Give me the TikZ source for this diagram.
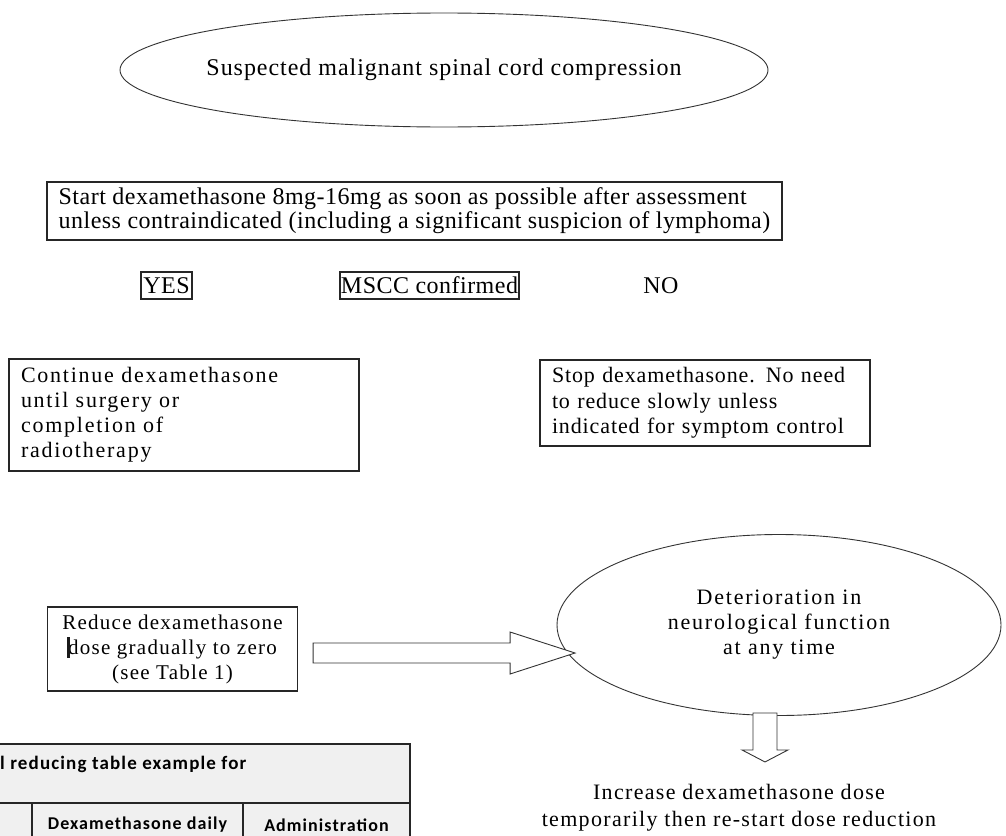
\documentclass[tikz,border=0pt]{standalone}
\usepackage{fontspec}
\setmainfont{Liberation Serif}
\newfontfamily\tightserif[LetterSpace=2]{Liberation Serif}
\newfontfamily\midserif[LetterSpace=4]{Liberation Serif}
\newfontfamily\looseserif[LetterSpace=6]{Liberation Serif}
\newfontfamily\wideserif[LetterSpace=8]{Liberation Serif}
\newfontfamily\tabfont[LetterSpace=6]{Carlito}
\usetikzlibrary{shapes,arrows,positioning,calc}

\begin{document}
\begin{tikzpicture}[
    x=1pt, y=-1pt,
    oval/.style={ellipse, draw=black!80, line width=0.9pt, inner sep=0pt},
    box/.style={rectangle, draw=black!85, line width=1.1pt, inner sep=0pt},
    tight/.style={font=\tightserif\fontsize{24}{24}\selectfont},
    wide/.style={font=\wideserif\fontsize{22}{25}\selectfont},
    cell/.style={font=\tabfont\bfseries\fontsize{18}{20}\selectfont, inner sep=0pt},
    blockarrow/.style={draw=black!80, line width=0.9pt, fill=white}
]
    \useasboundingbox (0,0) rectangle (1006,835);
    \clip (0,0) rectangle (1006,835);

    \node[oval, font=\midserif\fontsize{24}{24}\selectfont, inner xsep=-20pt, minimum width=648pt, minimum height=114pt] (suspect) at (444,70)
        {Suspected malignant spinal cord compression};
    \node[box, tight, minimum width=735pt, minimum height=58pt, align=left] (start) at (414.5,211)
        {Start dexamethasone 8mg-16mg as soon as possible after assessment\\unless contraindicated (including a significant suspicion of lymphoma)};

    \node[box, tight, minimum width=51pt, minimum height=27pt] (yes) at (166.5,285.5) {YES};
    \node[box, tight, minimum width=179pt, minimum height=27pt] (mscc) at (429.5,285.5) {MSCC confirmed};
    \node[tight, inner sep=0pt] (no) at (661,286) {NO};

    \node[box, wide, minimum width=350pt, minimum height=112pt, text width=326pt, align=left] (cont) at (184,415)
        {Continue dexamethasone\\until surgery or\\completion of\\radiotherapy};
    \node[box, font=\midserif\fontsize{22}{25.5}\selectfont, minimum width=330pt, minimum height=86pt, text width=306pt, align=left] (stop) at (705,403)
        {Stop dexamethasone. No need\\to reduce slowly unless\\indicated for symptom control};

    \node[box, font=\looseserif\fontsize{21}{25}\selectfont, minimum width=250pt, minimum height=84pt, align=center] (reduce) at (172.5,649)
        {Reduce dexamethasone\\dose gradually to zero\\(see Table 1)};
    \fill[black!90] ($(reduce.west)+(20,-12)$) rectangle ++(3,21); % caret mark
    \node[oval, wide, minimum width=444pt, minimum height=181pt, align=center] (deter) at (779,625)
        {Deterioration in\\neurological function\\at any time};
    \node[inner sep=0pt, align=center, font=\looseserif\fontsize{22}{27}\selectfont] (increase) at (739,808)
        {Increase dexamethasone dose\\temporarily then re-start dose reduction};

    % block arrows
    \draw[blockarrow] ($(reduce.east)+(15,-6)$) -- ++(197,0) -- ++(0,-11) -- ++(65,21)
        -- ++(-65,21) -- ++(0,-11) -- ++(-197,0) -- cycle;
    \draw[blockarrow] ($(deter.south)+(-26,-3)$) -- ++(0,37) -- ++(-11,0) -- ++(23,12)
        -- ++(23,-12) -- ++(-11,0) -- ++(0,-37) -- cycle;

    % reducing table (cut by the page)
    \fill[black!6] (-10,744) rectangle (410,900);
    \draw[black!85, line width=1.2pt] (-10,744) -- (410,744) -- (410,900);
    \draw[black!85, line width=1.2pt] (-10,803) -- (410,803);
    \draw[black!85, line width=1.2pt] (32,803) -- (32,900);
    \draw[black!85, line width=1.2pt] (243,803) -- (243,900);
    \node[cell, font=\tabfont\bfseries\fontsize{19}{20}\selectfont, anchor=west] (tabhead) at (0,764) {l reducing table example for};
    \node[cell] (dosecol) at (137.5,825) {Dexamethasone daily};
    \node[cell] (admincol) at (326.5,825) {Administration};
\end{tikzpicture}
\end{document}
